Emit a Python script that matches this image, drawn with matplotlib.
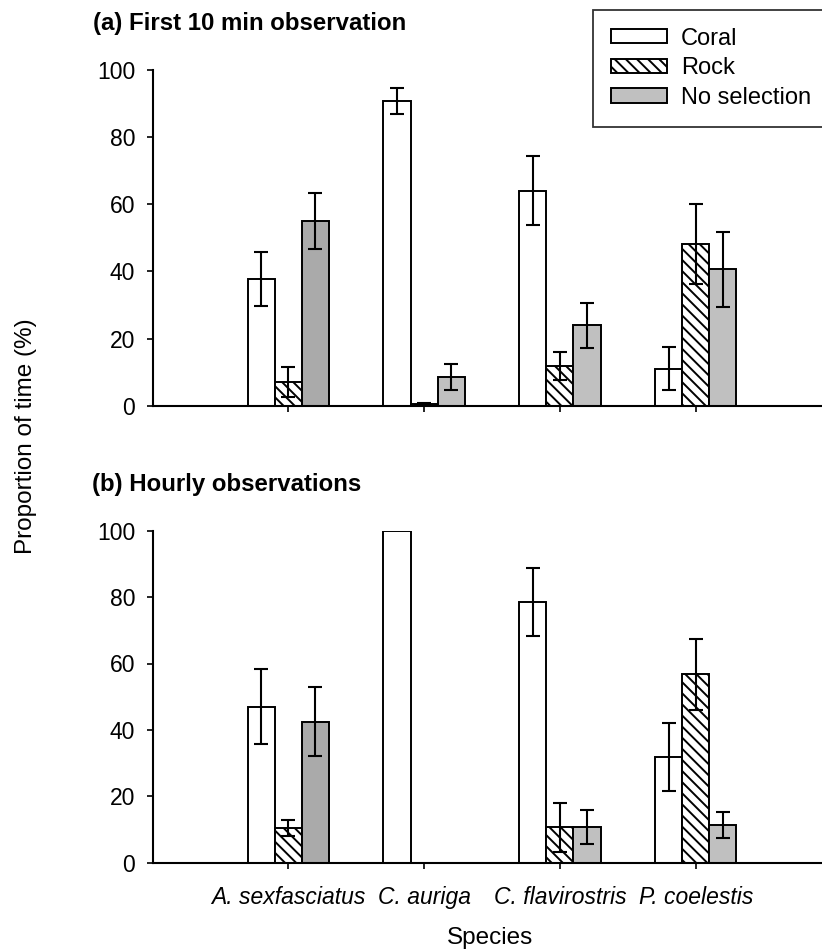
import matplotlib
matplotlib.use("Agg")
import matplotlib.pyplot as plt
import numpy as np
from matplotlib.patches import Patch

plt.rcParams['font.family'] = ['Liberation Sans', 'DejaVu Sans']
plt.rcParams['hatch.linewidth'] = 1.4

species = ["A. sexfasciatus", "C. auriga", "C. flavirostris", "P. coelestis"]
habitats = ["Coral", "Rock", "No selection"]

# (a) First 10 min observation
a_coral = [37.8, 90.8, 64.0, 11.0]
a_coral_se = [8.0, 3.9, 10.3, 6.4]
a_rock = [7.0, 0.5, 11.8, 48.3]
a_rock_se = [4.5, 0.3, 4.2, 11.9]
a_nosel = [55.1, 8.6, 24.0, 40.6]
a_nosel_se = [8.3, 3.9, 6.7, 11.2]

# (b) Hourly observations
b_coral = [47.0, 100.0, 78.5, 31.9]
b_coral_se = [11.3, 0.0, 10.2, 10.2]
b_rock = [10.4, 0.0, 10.7, 56.7]
b_rock_se = [2.5, 0.0, 7.4, 10.6]
b_nosel = [42.5, 0.0, 10.7, 11.4]
b_nosel_se = [10.3, 0.0, 5.1, 4.0]

yticks = [0, 20, 40, 60, 80, 100]

W, H = 822, 952
fig = plt.figure(figsize=(W / 100, H / 100), dpi=100)

left = 152.5 / W
ax_a = fig.add_axes([left, 1 - 405.7 / H, 1 - left, (405.7 - 70) / H])
ax_b = fig.add_axes([left, 1 - 862.7 / H, 1 - left, (862.7 - 530.7) / H])

x = np.arange(1, len(species) + 1)
bw = 0.2
grey_dark = "#aaaaaa"
grey_light = "#c0c0c0"
grey_cols = [grey_dark, grey_light, grey_light, grey_light]

def draw(ax, coral, coral_se, rock, rock_se, nosel, nosel_se):
    ekw = dict(elinewidth=1.5, capthick=1.5, ecolor="black")
    ax.bar(x - bw, coral, bw, color="white", edgecolor="black", linewidth=1.4, zorder=2)
    ax.bar(x, rock, bw, color="white", edgecolor="black", linewidth=1.4, hatch="\\\\\\", zorder=2)
    ax.bar(x + bw, nosel, bw, color=grey_cols, edgecolor="black", linewidth=1.4, zorder=2)
    for off, vals, se in [(-bw, coral, coral_se), (0, rock, rock_se), (bw, nosel, nosel_se)]:
        vals = np.array(vals); se = np.array(se)
        m = se > 0
        ax.errorbar((x + off)[m], vals[m], yerr=se[m], fmt="none", capsize=4.8, zorder=3, **ekw)
    ax.set_xlim(0, 4.93)
    ax.set_ylim(0, 100)
    ax.set_yticks(yticks)
    ax.set_xticks(x)
    for s in ["top", "right"]:
        ax.spines[s].set_visible(False)
    for s in ["left", "bottom"]:
        ax.spines[s].set_linewidth(1.5)
    ax.tick_params(axis="both", direction="out", length=4.5, width=1.2, labelsize=16.5)
    ax.tick_params(axis="y", pad=8)
    ax.tick_params(axis="x", pad=12)

draw(ax_a, a_coral, a_coral_se, a_rock, a_rock_se, a_nosel, a_nosel_se)
draw(ax_b, b_coral, b_coral_se, b_rock, b_rock_se, b_nosel, b_nosel_se)

ax_a.set_xticklabels([])
ax_b.set_xticklabels(species, style="italic", fontsize=16.5)

fig.text(93 / W, 1 - 23.5 / H, "(a) First 10 min observation", fontsize=17.3,
         fontweight="bold", ha="left", va="center")
fig.text(92 / W, 1 - 484 / H, "(b) Hourly observations", fontsize=17.3,
         fontweight="bold", ha="left", va="center")
fig.text(26 / W, 1 - 436 / H, "Proportion of time (%)", fontsize=17.5,
         rotation=90, ha="center", va="center")
fig.text(490 / W, 1 - 938 / H, "Species", fontsize=17.5, ha="center", va="center")

handles = [Patch(facecolor="white", edgecolor="black", linewidth=1.4),
           Patch(facecolor="white", edgecolor="black", linewidth=1.4, hatch="\\\\\\"),
           Patch(facecolor=grey_light, edgecolor="black", linewidth=1.4)]
leg = fig.legend(handles, habitats, loc="upper left", bbox_to_anchor=(593 / W, 1 - 10 / H),
                 fontsize=17, frameon=True, fancybox=False, edgecolor="black",
                 handlelength=2.37, handleheight=0.55, handletextpad=0.6,
                 labelspacing=0.32, borderpad=0.75, borderaxespad=0)
leg.get_frame().set_linewidth(1.3)

fig.savefig("out.png", dpi=100)
